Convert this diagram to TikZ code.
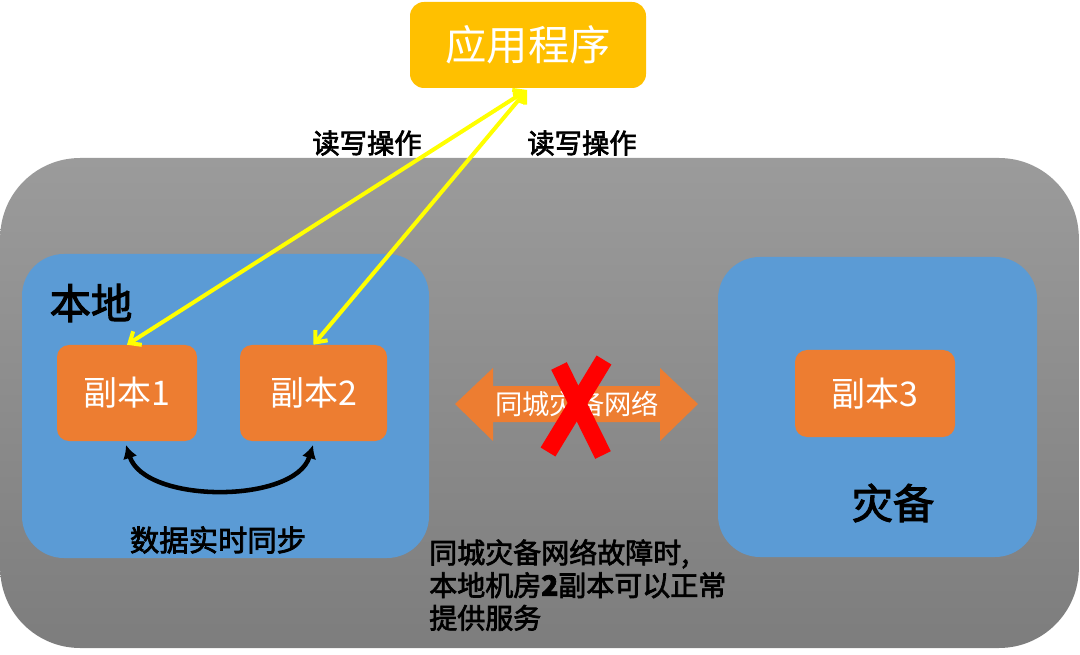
\documentclass[tikz,border=0pt]{standalone}
\usepackage{fontspec}
\setmainfont{Noto Sans CJK SC}
\newfontfamily\medcjk[FakeBold=2.5]{Noto Sans CJK SC}
\usetikzlibrary{arrows.meta}
\definecolor{appyellow}{HTML}{FFC000}
\definecolor{boxblue}{HTML}{5B9BD5}
\definecolor{reporange}{HTML}{ED7D31}
\definecolor{arrowyellow}{HTML}{FFFF00}
\definecolor{graytop}{HTML}{9B9B9B}
\definecolor{graybot}{HTML}{7D7D7D}
\definecolor{xred}{HTML}{FF0000}
\tikzset{
  regionbox/.style={fill=boxblue, draw=none, rounded corners=31.5pt, inner sep=0pt},
  replicabox/.style={fill=reporange, draw=none, rounded corners=9pt, inner sep=0pt,
     minimum height=72pt, text=white, font=\fontsize{25.5}{30}\selectfont},
  rwarrow/.style={draw=arrowyellow, line width=3pt,
     {Straight Barb[length=7pt,width=12pt]}-{Straight Barb[length=7pt,width=12pt]}},
  synccurve/.style={draw=black, line width=3.4pt,
     {Latex[length=10pt,width=11pt]}-{Latex[length=10pt,width=11pt]}},
  blacklabel/.style={text=black, font=\medcjk\fontsize{20.5}{24}\selectfont, inner sep=0pt},
  biglabel/.style={text=black, font=\medcjk\fontsize{31}{36}\selectfont, inner sep=0pt},
  xstroke/.style={draw=xred, line width=13pt},
}
\begin{document}
\begin{tikzpicture}[x=0.75pt,y=-0.75pt]
\useasboundingbox (0,0) rectangle (1080,655);

% big gray area
\node[top color=graytop, bottom color=graybot, draw=none, rounded corners=60pt,
      minimum width=809pt, minimum height=367.5pt, inner sep=0pt] (cloud) at (539.5,403) {};

% application
\node[fill=appyellow, draw=none, rounded corners=10.5pt, minimum width=177pt,
      minimum height=64.5pt, inner sep=0pt, text=white,
      font=\fontsize{31}{36}\selectfont] (app) at (528,45) {应用程序};

% regions
\node[regionbox, minimum width=305.25pt, minimum height=228pt] (local) at (225.5,406) {};
\node[regionbox, minimum width=239.25pt, minimum height=225pt] (dr) at (877.5,407) {};

\node[biglabel] (locallbl) at (91,303) {本地};
\node[biglabel] (drlbl) at (893,503) {灾备};

% replicas
\node[replicabox, minimum width=105pt] (r1) at (127,393) {副本1};
\node[replicabox, minimum width=110.25pt] (r2) at (313.5,393) {副本2};
\node[replicabox, minimum width=120pt, minimum height=65.25pt] (r3) at (875,393.5) {副本3};

% read/write arrows
\coordinate (apptip) at (527,90);
\draw[rwarrow] (apptip) -- (r1.north);
\draw[rwarrow] (apptip) -- (r2.north);
\node[blacklabel] (rw1) at (367,143) {读写操作};
\node[blacklabel] (rw2) at (582,143) {读写操作};

% sync curve
\coordinate (s1) at (126,445);
\coordinate (s2) at (313,445);
\draw[synccurve] (s1) .. controls (145,504) and (295,504) .. (s2);
\node[blacklabel, font=\medcjk\fontsize{22}{26}\selectfont] (synclbl) at (218,540) {数据实时同步};

% double arrow (network)
\fill[reporange] (455,404) -- (493,368) -- (493,386) -- (660,386) -- (660,368)
   -- (698,404) -- (660,441) -- (660,422) -- (493,422) -- (493,441) -- cycle;
\node[text=white, font=\fontsize{20.5}{24}\selectfont, inner sep=0pt] (net) at (577,404) {同城灾备网络};

% red X
\draw[xstroke] (559,366) -- (603,455);
\draw[xstroke] (604,360) -- (548,452);

% note
\node[anchor=north west, align=left, text=black, inner sep=0pt,
      font=\medcjk\fontsize{21}{24.5}\selectfont] (note) at (429,539)
  {同城灾备网络故障时,\\本地机房{\bfseries 2}副本可以正常\\提供服务};
\end{tikzpicture}
\end{document}
